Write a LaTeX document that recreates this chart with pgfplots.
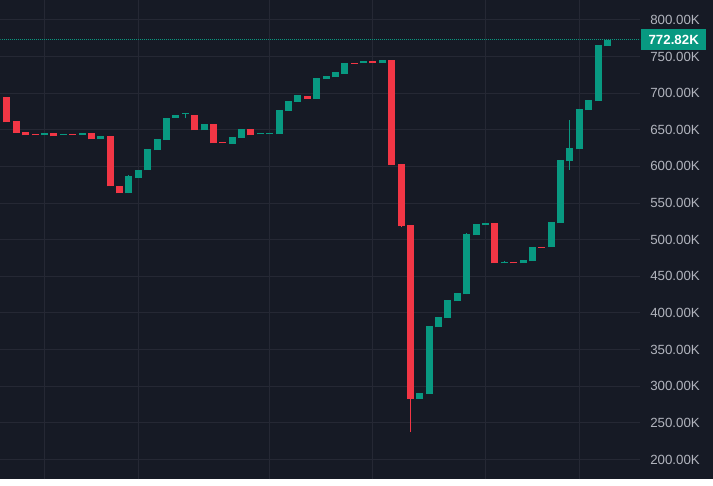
\documentclass[border=0pt]{standalone}
\usepackage{pgfplots}
\pgfplotsset{compat=1.18}
\usepackage{pgfplotstable}
\usepackage{fontspec}
\setmainfont{Liberation Sans}
\definecolor{bg}{HTML}{161A25}
\definecolor{gridc}{HTML}{252834}
\definecolor{up}{HTML}{089981}
\definecolor{down}{HTML}{F23645}
\definecolor{lab}{HTML}{B2B5BE}

\pgfplotstableread{
x lo hi
4 642.7 645.0
6 642.6 644.0
8 642.6 645.0
10 636.8 640.8
13 563.3 586.4
14 584.7 595.7
15 594.7 623.2
16 621.7 636.7
17 635.7 666.7
18 665.7 670.7
19 671.0 672.4
21 649.2 657.4
24 630.4 639.7
25 638.7 650.5
27 643.7 645.1
28 643.7 645.1
29 643.7 676.5
30 675.3 688.7
31 687.7 696.9
33 691.7 720.1
34 718.7 722.7
35 721.5 728.3
36 726.7 741.7
38 740.7 743.3
40 740.7 744.7
44 282.2 290.4
45 289.0 381.7
46 380.4 394.1
47 392.7 417.3
48 415.7 426.8
49 425.4 507.3
50 505.7 520.9
51 519.6 522.3
53 467.7 469.1
55 467.7 471.7
56 470.5 489.6
58 489.7 523.7
59 522.3 608.2
60 606.7 624.7
61 623.2 677.8
62 676.5 690.1
63 688.7 765.1
64 763.7 772.82
}\upbody

\pgfplotstableread{
x lo hi
0 660.1 694.2
1 645.7 661.7
2 642.4 646.5
3 642.4 643.8
5 640.8 645.0
7 642.6 644.0
9 636.8 645.0
11 572.7 640.8
12 563.3 573.7
20 649.2 670.7
22 631.4 657.4
23 631.4 632.7
26 642.3 650.7
32 691.7 696.7
37 740.3 741.7
39 740.7 743.3
41 601.7 744.7
42 518.2 602.7
43 282.2 519.7
52 467.7 522.3
54 467.7 469.1
57 488.5 489.9
}\downbody

\pgfplotstableread{
x lo hi
13 563.3 588.0
19 665.5 672.4
49 425.4 509.7
53 467.7 470.7
60 595.7 662.7
}\upwick

\pgfplotstableread{
x lo hi
42 516.7 602.7
43 237.2 519.7
}\downwick

\pgfplotsset{candle/.style 2 args={only marks, mark=*, mark size=0pt,
  mark options={draw opacity=0, fill opacity=0}, forget plot,
  error bars/.cd, y dir=plus, y explicit, error mark=none,
  error bar style={line width=#1, #2}}}

\begin{document}
\begin{tikzpicture}
\fill[bg] (0,0) rectangle (713bp,479bp);
\begin{axis}[
  at={(0,0)}, anchor=south west,
  scale only axis, width=640bp, height=479bp,
  xmin=-0.692, xmax=67.47,
  ymin=173.1, ymax=826.4,
  axis line style={draw=none},
  major tick length=0pt,
  xtick={4,14,28,39,51,61}, xticklabels={,,,,,},
  ytick={200,250,...,800},
  grid=major, grid style={gridc, line width=1bp},
  yticklabel pos=right,
  /pgf/number format/assume math mode=true,
  yticklabel={\pgfmathprintnumber[fixed,fixed zerofill,precision=2]{\tick}K},
  yticklabel style={anchor=west, inner sep=0pt, xshift=10bp, text=lab, font=\fontsize{13.3bp}{16bp}\selectfont},
]
\addplot[up, line width=1bp, dash pattern=on 1bp off 1bp, forget plot] coordinates {(-0.692,772.82) (67.47,772.82)};
\addplot[candle={1bp}{up}] table[x=x, y=lo, y error expr=\thisrow{hi}-\thisrow{lo}] {\upwick};
\addplot[candle={1bp}{down}] table[x=x, y=lo, y error expr=\thisrow{hi}-\thisrow{lo}] {\downwick};
\addplot[candle={7bp}{up}] table[x=x, y=lo, y error expr=\thisrow{hi}-\thisrow{lo}] {\upbody};
\addplot[candle={7bp}{down}] table[x=x, y=lo, y error expr=\thisrow{hi}-\thisrow{lo}] {\downbody};
\coordinate (tag) at (axis cs:67.47,772.82);
\end{axis}
\node[anchor=west, fill=up, text=white, font=\bfseries\fontsize{13.3bp}{16bp}\selectfont, minimum height=21bp, minimum width=65bp, inner sep=0pt] at ([xshift=1bp]tag) {772.82K};
\end{tikzpicture}
\end{document}
